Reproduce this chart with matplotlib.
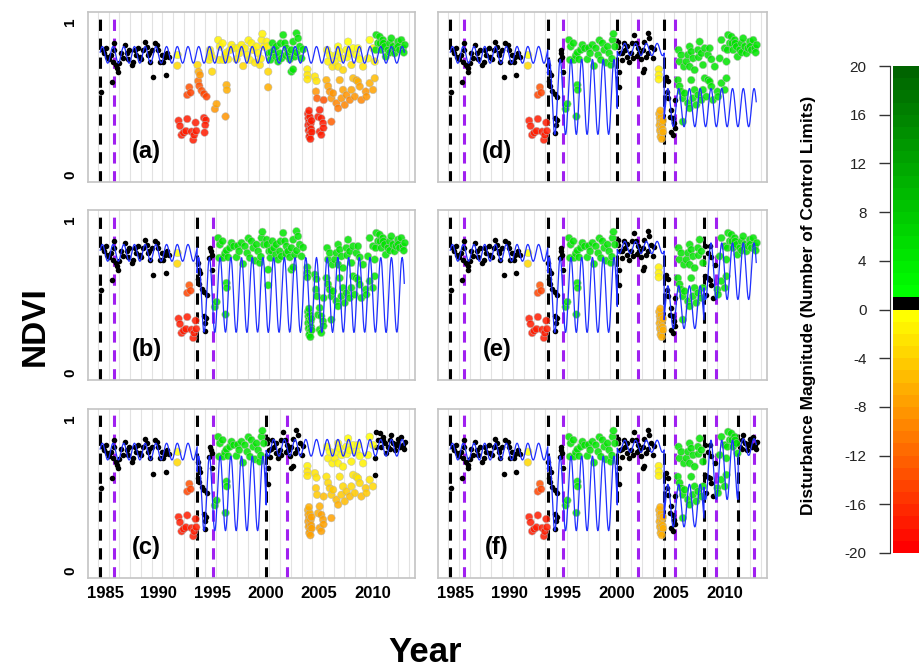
import numpy as np
import matplotlib
matplotlib.use("Agg")
import matplotlib.pyplot as plt
from matplotlib.colors import ListedColormap, BoundaryNorm

plt.rcParams['font.family'] = ['Liberation Sans', 'DejaVu Sans']

# ---------------- observed NDVI series (same observations in every panel) ----------------
OBS_YEAR = [
    # stable period 1984-1991
    1984.60, 1984.78, 1984.90, 1985.10, 1985.20, 1985.40, 1985.53, 1985.62, 1985.72, 1985.84,
    1985.86, 1986.00, 1986.15, 1986.24, 1986.34, 1986.50, 1986.70, 1986.87, 1987.02, 1987.15,
    1987.27, 1987.49, 1987.64, 1987.80, 1987.90, 1988.11, 1988.26, 1988.40, 1988.58, 1988.73,
    1988.89, 1989.04, 1989.10, 1989.20, 1989.35, 1989.50, 1989.66, 1989.88, 1989.98, 1990.13,
    1990.29, 1990.44, 1990.60, 1990.66, 1990.81, 1991.00,
    # 1991-1993 disturbance
    1991.75, 1991.78,
    1991.87, 1992.00, 1992.15, 1992.34, 1992.56, 1992.68, 1993.08, 1993.24, 1993.33, 1993.46, 1993.52,
    1992.68, 1992.87, 1992.99,
    # 1993-1995 recovery
    1993.64, 1993.70, 1993.74, 1993.86, 1993.80, 1994.02, 1994.24, 1994.48, 1994.24, 1994.42,
    1994.36, 1994.30, 1994.73, 1994.80, 1994.86, 1994.95, 1995.00,
    # 1995-2000
    1995.57, 1995.66, 1995.73, 1995.98, 1996.04, 1996.20, 1996.35, 1996.50, 1996.66, 1996.82,
    1997.03, 1997.28, 1997.40, 1997.53, 1997.75, 1997.90, 1998.06, 1998.28, 1998.40, 1998.53,
    1998.68, 1998.84, 1999.00, 1999.15, 1999.30, 1999.46, 1999.55, 1999.62, 1999.70, 1999.83,
    1995.26, 1995.42, 1996.26, 1996.35, 1996.38,
    # 2000-2004
    2000.10, 2000.14, 2000.24, 2000.24, 2000.33, 2000.45, 2000.50, 2000.64, 2000.77, 2000.95,
    2001.00, 2001.17, 2001.32, 2001.40, 2001.48, 2001.64, 2001.79, 2001.90, 2001.95, 2002.10,
    2002.26, 2002.41, 2002.41, 2002.57, 2002.57, 2002.72, 2002.88, 2002.90, 2003.03, 2003.19,
    2003.35, 2003.50,
    # 2004 disturbance
    2003.90, 2003.90, 2003.90,
    2003.95, 2004.00, 2004.05, 2003.98, 2004.10, 2004.02, 2004.15, 2004.08, 2004.20, 2004.25,
    2004.12, 2004.30, 2004.05, 2004.28, 2004.18,
    2004.60, 2004.70, 2004.75, 2004.80, 2004.90, 2005.05, 2005.05, 2005.20, 2005.20, 2005.36,
    2005.40, 2005.42,
    # 2005-2010 lower
    2005.68, 2005.83, 2005.99, 2006.14, 2006.14, 2006.30, 2006.61, 2006.77, 2006.92, 2007.08,
    2007.23, 2007.39, 2007.55, 2007.86, 2008.01, 2008.17, 2008.32, 2008.48, 2008.63, 2008.79,
    2008.94, 2009.35, 2009.41, 2009.72, 2010.03, 2010.19,
    # 2005-2010 upper
    2005.74, 2005.83, 2005.99, 2006.24, 2006.46, 2006.61, 2006.77, 2006.77, 2006.92, 2007.08,
    2007.23, 2007.55, 2007.60, 2007.70, 2007.86, 2008.01, 2008.17, 2008.48, 2008.63, 2008.79,
    2009.10, 2009.56, 2009.72, 2010.03, 2010.19,
    # 2010-2013
    2010.28, 2010.34, 2010.50, 2010.65, 2010.70, 2010.81, 2010.96, 2011.00, 2011.12, 2011.22,
    2011.43, 2011.59, 2011.60, 2011.74, 2011.90, 2012.05, 2012.20, 2012.36, 2012.40, 2012.52,
    2012.67, 2012.83, 2012.90, 2013.00,
]
OBS_NDVI = [
    0.545, 0.817, 0.797, 0.828, 0.773, 0.756, 0.784, 0.610, 0.741, 0.861,
    0.817, 0.719, 0.697, 0.675, 0.734, 0.800, 0.762, 0.850, 0.795, 0.760,
    0.817, 0.719, 0.741, 0.817, 0.784, 0.828, 0.773, 0.760, 0.817, 0.871,
    0.839, 0.784, 0.800, 0.741, 0.817, 0.638, 0.861, 0.850, 0.817, 0.741,
    0.784, 0.741, 0.770, 0.651, 0.797, 0.769,
    0.714, 0.784,
    0.355, 0.320, 0.261, 0.276, 0.287, 0.366, 0.283, 0.229, 0.261, 0.342, 0.288,
    0.523, 0.573, 0.538,
    0.719, 0.614, 0.675, 0.654, 0.582, 0.551, 0.530, 0.512, 0.373, 0.358,
    0.326, 0.277, 0.752, 0.817, 0.795, 0.773, 0.675,
    0.882, 0.752, 0.839, 0.861, 0.752, 0.780, 0.800, 0.756, 0.817, 0.850,
    0.828, 0.756, 0.830, 0.795, 0.850, 0.712, 0.828, 0.784, 0.880, 0.752,
    0.861, 0.817, 0.734, 0.839, 0.795, 0.719, 0.760, 0.882, 0.922, 0.839,
    0.431, 0.464, 0.382, 0.588, 0.556,
    0.871, 0.839, 0.675, 0.573, 0.795, 0.752, 0.800, 0.861, 0.817, 0.773,
    0.840, 0.741, 0.795, 0.860, 0.762, 0.915, 0.861, 0.780, 0.828, 0.795,
    0.756, 0.817, 0.675, 0.871, 0.690, 0.773, 0.926, 0.800, 0.893, 0.839,
    0.762, 0.820,
    0.690, 0.654, 0.625,
    0.400, 0.370, 0.345, 0.325, 0.305, 0.290, 0.270, 0.250, 0.335, 0.300,
    0.380, 0.280, 0.420, 0.355, 0.235,
    0.643, 0.545, 0.614, 0.501, 0.380, 0.425, 0.283, 0.370, 0.262, 0.338,
    0.307, 0.490,
    0.620, 0.580, 0.545, 0.501, 0.348, 0.534, 0.469, 0.436, 0.620, 0.501,
    0.556, 0.458, 0.523, 0.490, 0.556, 0.632, 0.512, 0.620, 0.610, 0.578,
    0.490, 0.545, 0.512, 0.600, 0.556, 0.632,
    0.817, 0.741, 0.784, 0.708, 0.741, 0.784, 0.839, 0.708, 0.806, 0.762,
    0.686, 0.817, 0.769, 0.871, 0.795, 0.719, 0.828, 0.784, 0.828, 0.756,
    0.708, 0.762, 0.882, 0.828, 0.741,
    0.817, 0.915, 0.861, 0.904, 0.860, 0.817, 0.882, 0.860, 0.839, 0.773,
    0.817, 0.861, 0.800, 0.893, 0.839, 0.795, 0.828, 0.871, 0.840, 0.817,
    0.882, 0.828, 0.800, 0.850,
]

PANEL_LABELS = ['(a)', '(b)', '(c)', '(d)', '(e)', '(f)']

# break dates (black dashed = break, purple dashed = end of training)
BREAK_BLACK = [1984.55, 1993.6, 2000.05, 2004.4, 2008.1, 2011.27]
BREAK_PURPLE = [1985.85, 1995.05, 2002.0, 2005.45, 2009.25, 2012.77]
N_BREAKS = [1, 2, 3, 4, 5, 6]

# harmonic model segments per panel: start year, level, seasonal amplitude
MODEL_END = 2012.95
MODEL_PEAK_PHASE = 0.75
MODEL_START = {
    '(a)': [1984.55],
    '(b)': [1984.55, 1993.6],
    '(c)': [1984.55, 1993.6, 2000.05],
    '(d)': [1984.55, 1993.6, 2000.05, 2004.4],
    '(e)': [1984.55, 1993.6, 2000.05, 2004.4, 2008.1],
    '(f)': [1984.55, 1993.6, 2000.05, 2004.4, 2008.1, 2011.27],
}
MODEL_LEVEL = {
    '(a)': [0.785],
    '(b)': [0.785, 0.51],
    '(c)': [0.785, 0.51, 0.81],
    '(d)': [0.785, 0.51, 0.82, 0.44],
    '(e)': [0.785, 0.51, 0.82, 0.43, 0.665],
    '(f)': [0.785, 0.51, 0.82, 0.43, 0.665, 0.815],
}
MODEL_AMP = {
    '(a)': [0.055],
    '(b)': [0.055, 0.245],
    '(c)': [0.055, 0.245, 0.055],
    '(d)': [0.055, 0.245, 0.04, 0.125],
    '(e)': [0.055, 0.245, 0.04, 0.14, 0.185],
    '(f)': [0.055, 0.245, 0.04, 0.14, 0.195, 0.055],
}

# disturbance magnitude (number of control limits) per time span, at these NDVI levels
NDVI_ANCHOR = [0.30, 0.45, 0.60, 0.75]
BLK = [0, 0, 0, 0]
GRN = [4, 4, 4, 4]
DIST1 = [-18, -16, -13, -1]
SPAN_EDGES = {
    '(a)': [1983, 1991.5, 1994.6, 2000.3, 2003.6, 2005.5, 2010.2, 2014],
    '(b)': [1983, 1991.5, 1993.6, 1995.05, 2014],
    '(c)': [1983, 1991.5, 1993.6, 1995.05, 2000.05, 2003.7, 2010.1, 2014],
    '(d)': [1983, 1991.5, 1993.6, 1995.05, 2000.05, 2003.7, 2004.5, 2005.45, 2014],
    '(e)': [1983, 1991.5, 1993.6, 1995.05, 2000.05, 2003.7, 2004.5, 2005.45, 2008.1, 2009.25, 2014],
    '(f)': [1983, 1991.5, 1993.6, 1995.05, 2000.05, 2003.7, 2004.5, 2005.45, 2008.1, 2009.25,
            2011.27, 2014],
}
SPAN_MAGS = {
    '(a)': [BLK, DIST1, [-10, -8, -6, -2], GRN, [-18, -17, -3, -1], [-14, -10, -7, -1], GRN],
    '(b)': [BLK, DIST1, BLK, GRN],
    '(c)': [BLK, DIST1, BLK, GRN, BLK, [-8, -6, -3, -1], BLK],
    '(d)': [BLK, DIST1, BLK, GRN, BLK, [-7, -6, -2, -1], BLK, GRN],
    '(e)': [BLK, DIST1, BLK, GRN, BLK, [-7, -6, -2, -1], BLK, GRN, BLK, GRN],
    '(f)': [BLK, DIST1, BLK, GRN, BLK, [-7, -6, -2, -1], BLK, GRN, BLK, GRN, BLK],
}

CBAR_TICKS = [-20, -16, -12, -8, -4, 0, 4, 8, 12, 16, 20]
X_TICKS = [1985, 1990, 1995, 2000, 2005, 2010]

# ---------------- colour scale ----------------
neg = [(1.0, (k + 20) / 19.0, 0.0) for k in range(-20, 0)]
mid = [(0.0, 0.0, 0.0)]
pos = [(0.0, (255 - (k - 1) / 18.0 * 155) / 255.0, 0.0) for k in range(1, 20)]
cmap = ListedColormap(neg + mid + pos)
bounds = np.arange(-20, 21, 1)
norm = BoundaryNorm(bounds, cmap.N)

yr = np.array(OBS_YEAR)
nd = np.array(OBS_NDVI)

W, H = 920, 669
fig = plt.figure(figsize=(W / 100, H / 100), dpi=100)

def px_axes(x0, y0, x1, y1):
    return fig.add_axes([x0 / W, 1 - y1 / H, (x1 - x0) / W, (y1 - y0) / H])

cols = [(88, 415), (438, 767)]
rows = [(12, 182), (210, 380), (409, 578)]

for idx, lab in enumerate(PANEL_LABELS):
    c, r = idx // 3, idx % 3
    ax = px_axes(cols[c][0], rows[r][0], cols[c][1], rows[r][1])
    ax.set_xlim(1983.41, 2013.95)
    ax.set_ylim(-0.046, 1.065)
    for g in range(1984, 2014):
        ax.axvline(g + 0.35, color='#e2e2e2', lw=0.8, zorder=0)
    nb = N_BREAKS[idx]
    for k in range(nb):
        ax.axvline(BREAK_BLACK[k], color='black', lw=2.2, dashes=(3.7, 2.5), zorder=2)
        ax.axvline(BREAK_PURPLE[k], color='#A020F0', lw=2.2, dashes=(3.7, 2.5), zorder=2)

    edges = np.array(SPAN_EDGES[lab])
    mags = SPAN_MAGS[lab]
    m = np.array([np.interp(v, NDVI_ANCHOR, mags[np.searchsorted(edges, t, side='right') - 1])
                  for t, v in zip(yr, nd)])
    isblack = (m >= 0) & (m < 1)
    ax.scatter(yr[isblack], nd[isblack], s=16, c='black', linewidths=0, zorder=3)
    ax.scatter(yr[~isblack], nd[~isblack], s=30, c=m[~isblack], cmap=cmap, norm=norm,
               edgecolors='#b8b8b8', linewidths=0.4, alpha=0.85, zorder=3)

    starts = MODEL_START[lab] + [MODEL_END]
    tt, yy = [], []
    for j in range(len(starts) - 1):
        t = np.linspace(starts[j], starts[j + 1], 400)
        tt.append(t)
        yy.append(MODEL_LEVEL[lab][j] + MODEL_AMP[lab][j] * np.cos(2 * np.pi * (t - MODEL_PEAK_PHASE)))
    ax.plot(np.concatenate(tt), np.concatenate(yy), color='#1f2fff', lw=0.9, zorder=4)

    ax.text(1988.9, 0.152, lab, fontsize=17, fontweight='bold', ha='center', va='center', zorder=5)

    for sp in ax.spines.values():
        sp.set_color('#c4c4c4')
        sp.set_linewidth(1.2)
    ax.set_xticks(X_TICKS)
    ax.set_yticks([0, 1])
    ax.tick_params(length=0)
    if r == 2:
        ax.set_xticklabels([str(v) for v in X_TICKS], fontsize=12, fontweight='bold')
        ax.tick_params(axis='x', pad=6)
    else:
        ax.set_xticklabels([])
    if c == 0:
        ax.set_yticklabels(['0', '1'], fontsize=11, fontweight='bold', rotation=90, va='center')
        ax.tick_params(axis='y', pad=8)
    else:
        ax.set_yticklabels([])

# ---------------- colour bar ----------------
cax = px_axes(893, 66, 930, 553)
cax.pcolormesh([0, 1], bounds, (bounds[:-1] + 0.5).reshape(-1, 1), cmap=cmap, norm=norm)
cax.set_xlim(0, 1)
cax.set_ylim(-20, 20)
cax.set_xticks([])
for s in ['top', 'right', 'bottom']:
    cax.spines[s].set_visible(False)
cax.spines['left'].set_position(('outward', 2))
cax.spines['left'].set_bounds(-20, 20)
cax.spines['left'].set_color('#333333')
cax.set_yticks(CBAR_TICKS)
cax.set_yticklabels([str(v) for v in CBAR_TICKS], fontsize=11, color='#222222')
cax.tick_params(axis='y', length=8, width=1, pad=9, color='#333333')

fig.text(809 / W, 1 - 305 / H, 'Disturbance Magnitude (Number of Control Limits)',
         rotation=90, fontsize=12.5, fontweight='bold', ha='center', va='center')
fig.text(35 / W, 1 - 326 / H, 'NDVI', rotation=90, fontsize=24, fontweight='bold',
         ha='center', va='center')
fig.text(425 / W, 1 - 653 / H, 'Year', fontsize=25, fontweight='bold', ha='center', va='center')

fig.savefig('out.png', dpi=100)
